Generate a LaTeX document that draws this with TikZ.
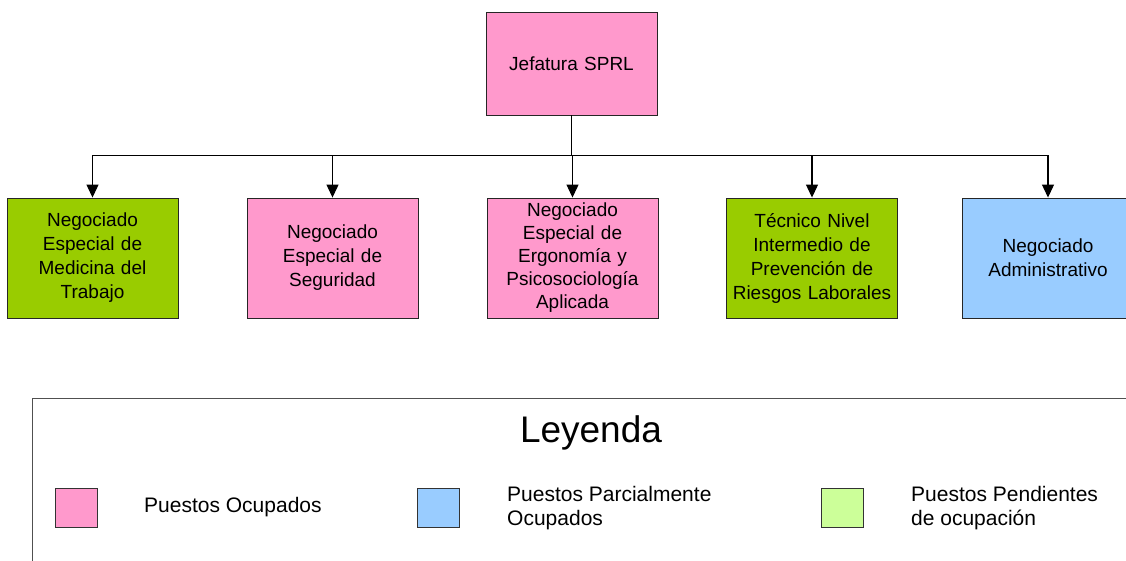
\documentclass[tikz,border=0pt]{standalone}
\usepackage{fontspec}
\setmainfont{Liberation Sans}
\usetikzlibrary{arrows.meta}
\definecolor{pinkc}{HTML}{FF99CC}
\definecolor{greenc}{HTML}{99CC00}
\definecolor{bluec}{HTML}{99CCFF}
\definecolor{lgreenc}{HTML}{CCFF99}
\definecolor{framec}{HTML}{505050}
\tikzset{
  orgbox/.style={draw=black!85, line width=0.9pt, minimum width=171pt, minimum height=120pt,
    inner sep=2pt, align=center, text width=165pt,
    font=\fontsize{19}{24}\selectfont},
  conn/.style={draw=black, line width=1.2pt, -{Triangle[length=13pt,width=12pt]}},
  legsq/.style={draw=black!80, line width=0.8pt, minimum width=42pt, minimum height=39pt, inner sep=0pt},
  legtxt/.style={anchor=west, align=left, inner sep=0pt, font=\fontsize{21}{24}\selectfont}
}
\begin{document}
\begin{tikzpicture}[x=1pt,y=-1pt]
\clip (0,0) rectangle (1126,561);
\fill[white] (0,0) rectangle (1126,561);
\node[orgbox, fill=pinkc, minimum height=103pt] (top) at (571.5,63.5) {Jefatura SPRL};
\node[orgbox, fill=greenc] (c1) at (92.5,258) {Negociado\\Especial de\\Medicina del\\Trabajo};
\node[orgbox, fill=pinkc] (c2) at (332.5,258) {Negociado\\Especial de\\Seguridad};
\node[orgbox, fill=pinkc, font=\fontsize{19}{23}\selectfont] (c3) at (572.5,258) {Negociado\\Especial de\\Ergonomía y\\Psicosociología\\Aplicada};
\node[orgbox, fill=greenc] (c4) at (812,258) {Técnico Nivel\\Intermedio de\\Prevención de\\Riesgos Laborales};
\node[orgbox, fill=bluec] (c5) at (1048,258) {Negociado\\Administrativo};
\coordinate (bus) at (571.5,155.5);
\draw[line width=1.2pt] (top.south) -- (bus);
\foreach \c in {c1,c2,c3,c4,c5} { \draw[conn] (bus) -| (\c.north); }
% legend
\draw[framec, line width=1pt] (32.5,575) -- (32.5,398.5) -- (1140,398.5);
\node[font=\fontsize{37}{40}\selectfont, inner sep=0pt] (leg) at (591,433) {Leyenda};
\node[legsq, fill=pinkc] (s1) at (76,507.5) {};
\node[legsq, fill=bluec] (s2) at (438.5,507.5) {};
\node[legsq, fill=lgreenc] (s3) at (842.5,507.5) {};
\node[legtxt] (t1) at (144,507) {Puestos Ocupados};
\node[legtxt] (t2) at (507,508) {Puestos Parcialmente\\Ocupados};
\node[legtxt] (t3) at (911,508) {Puestos Pendientes\\de ocupación};
\end{tikzpicture}
\end{document}
